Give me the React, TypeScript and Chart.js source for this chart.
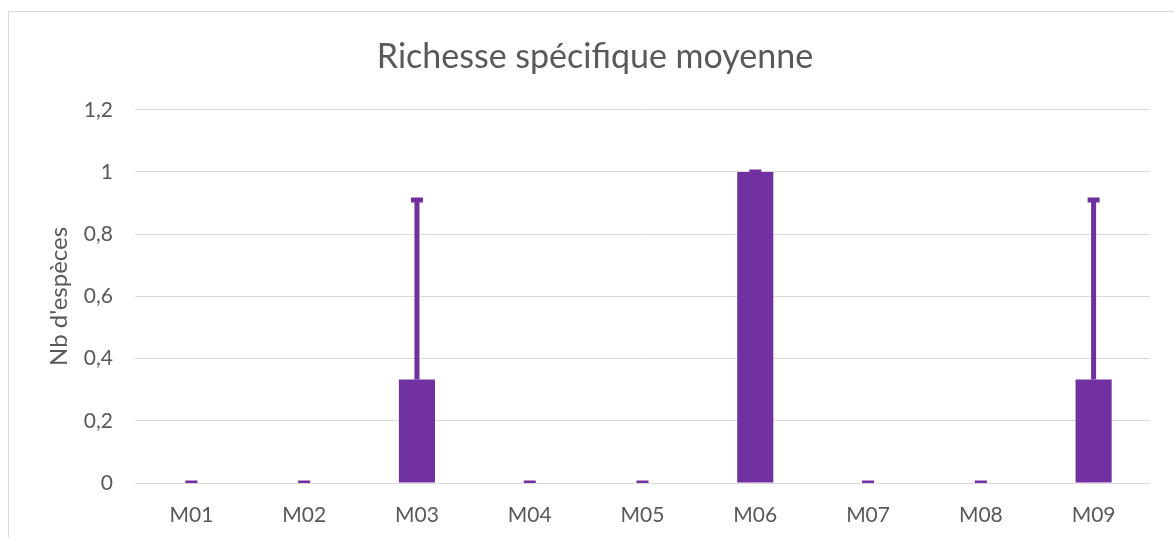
import React, { useEffect, useRef } from 'react';
import { Chart, registerables } from 'chart.js';

Chart.register(...registerables);

const categories = ['M01', 'M02', 'M03', 'M04', 'M05', 'M06', 'M07', 'M08', 'M09'];
const meanValues = [0, 0, 0.333, 0, 0, 1, 0, 0, 0.333];
const errorPlus = [0, 0, 0.577, 0, 0, 0, 0, 0, 0.577];
const yTicks = [0, 0.2, 0.4, 0.6, 0.8, 1, 1.2];

const PURPLE = '#7030A0';
const TEXT = '#595959';
const GRID = '#D9D9D9';
const FONT = 'Lato, "Open Sans", sans-serif';

const errorBarPlugin = {
  id: 'errorBars',
  afterDatasetsDraw(chart: any) {
    const { ctx, chartArea } = chart;
    const meta = chart.getDatasetMeta(0);
    const yScale = chart.scales.y;
    const ds: any = chart.data.datasets[0];
    const errs: number[] = ds.errorPlus || [];
    ctx.save();
    ctx.beginPath();
    ctx.rect(chartArea.left, chartArea.top, chartArea.right - chartArea.left, chartArea.bottom - chartArea.top);
    ctx.clip();
    ctx.strokeStyle = PURPLE;
    ctx.lineWidth = 5;
    ctx.lineCap = 'butt';
    meta.data.forEach((bar: any, i: number) => {
      const v = ds.data[i];
      const e = errs[i] || 0;
      const x = bar.x;
      const y0 = yScale.getPixelForValue(v);
      const y1 = yScale.getPixelForValue(v + e);
      if (y0 - y1 > 0.5) {
        ctx.beginPath();
        ctx.moveTo(x, y0);
        ctx.lineTo(x, y1);
        ctx.stroke();
      }
      ctx.beginPath();
      ctx.moveTo(x - 6, y1);
      ctx.lineTo(x + 6, y1);
      ctx.stroke();
    });
    ctx.restore();
  },
};

export default function App() {
  const canvasRef = useRef<HTMLCanvasElement | null>(null);

  useEffect(() => {
    if (!canvasRef.current) return;
    const chart = new Chart(canvasRef.current, {
      type: 'bar',
      data: {
        labels: categories,
        datasets: [
          {
            label: 'Richesse spécifique moyenne',
            data: meanValues,
            errorPlus: errorPlus,
            backgroundColor: PURPLE,
            borderWidth: 0,
            categoryPercentage: 1,
            barPercentage: 0.32,
          } as any,
        ],
      },
      options: {
        responsive: false,
        animation: false,
        layout: { padding: { left: 40, right: 24, top: 0, bottom: 0 } },
        plugins: {
          legend: { display: false },
          tooltip: { enabled: false },
          title: {
            display: true,
            text: 'Richesse spécifique moyenne',
            color: TEXT,
            font: { family: FONT, size: 34, weight: 'normal' },
            padding: { top: 37, bottom: 32 },
          },
        },
        scales: {
          x: {
            grid: { display: false, drawTicks: false },
            border: { display: false },
            ticks: {
              color: TEXT,
              font: { family: FONT, size: 21 },
              padding: 20,
              maxRotation: 0,
            },
            afterFit: (scale: any) => {
              scale.height = 54;
            },
          },
          y: {
            min: 0,
            max: 1.2,
            grid: { color: GRID, lineWidth: 1, drawTicks: false },
            border: { display: false },
            ticks: {
              color: TEXT,
              font: { family: FONT, size: 21 },
              padding: 22,
              callback: (v: any) => String(Number(Number(v).toFixed(1))).replace('.', ','),
            },
            afterBuildTicks: (scale: any) => {
              scale.ticks = yTicks.map((v) => ({ value: v }));
            },
            title: {
              display: true,
              text: "Nb d'espèces",
              color: TEXT,
              font: { family: FONT, size: 24 },
              padding: { top: 5, bottom: 0 },
            },
            afterFit: (scale: any) => {
              scale.width = 95;
            },
          },
        },
      },
      plugins: [errorBarPlugin],
    });
    return () => chart.destroy();
  }, []);

  return (
    <div style={{ position: 'fixed', left: 0, top: 0, width: 1174, height: 537, overflow: 'hidden', background: '#fff' }}>
      <div
        style={{
          position: 'absolute',
          left: 8,
          top: 11,
          width: 1200,
          height: 600,
          border: '1px solid #D9D9D9',
        }}
      />
      <canvas ref={canvasRef} width={1174} height={537} style={{ position: 'absolute', left: 0, top: 0 }} />
    </div>
  );
}
